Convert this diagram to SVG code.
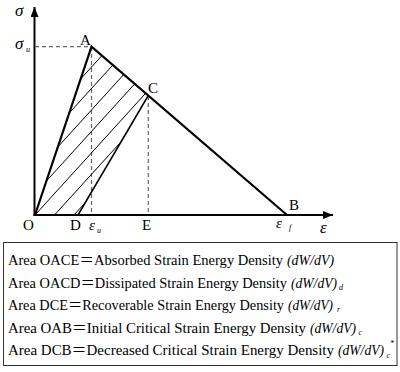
<svg xmlns="http://www.w3.org/2000/svg" width="400" height="372" viewBox="0 0 400 372">
<style>
.lbl{font-family:"Liberation Serif","Times New Roman",serif;font-size:15px;fill:#000}
.gr{font-family:"Liberation Serif","Times New Roman",serif;font-style:italic;fill:#000}
.leg{font-family:"Liberation Serif","Noto Sans CJK SC",serif;font-size:14.5px;fill:#000}
.it{font-family:"Liberation Serif","Times New Roman",serif;font-style:italic;font-size:14.5px;fill:#000}
.sub{font-family:"Liberation Serif","Times New Roman",serif;font-style:italic;font-size:8px;fill:#000}
.dash{stroke:#666;stroke-width:1.2;stroke-dasharray:4 3;fill:none}
.thick{stroke:#000;stroke-width:2.2;fill:none}
.hatch{stroke:#000;stroke-width:1;fill:none}
</style>
<defs>
<marker id="arr" viewBox="0 0 10 8" refX="10" refY="4" markerWidth="10" markerHeight="8" markerUnits="userSpaceOnUse" orient="auto">
<path d="M0,0 L10,4 L0,8 Z" fill="#000"/>
</marker>
<clipPath id="region"><polygon points="35,215 91.5,46.7 148.3,95.5 78,215"/></clipPath>
</defs>
<rect width="400" height="372" fill="#fff"/>
<g id="connectors">
<line x1="34.5" y1="216" x2="34.5" y2="7" stroke="#000" stroke-width="2" marker-end="url(#arr)"/>
<line x1="33.5" y1="215" x2="333" y2="215" stroke="#000" stroke-width="2" marker-end="url(#arr)"/>
<line class="dash" x1="35" y1="46.7" x2="91.5" y2="46.7"/>
<line class="dash" x1="91.5" y1="47" x2="91.5" y2="214"/>
<line class="dash" x1="148.3" y1="96" x2="148.3" y2="214"/>
<g clip-path="url(#region)">
<line class="hatch" x1="30" y1="134.7" x2="160" y2="-8.3"/>
<line class="hatch" x1="30" y1="156.15" x2="160" y2="13.15"/>
<line class="hatch" x1="30" y1="177.6" x2="160" y2="34.6"/>
<line class="hatch" x1="30" y1="199.05" x2="160" y2="56.05"/>
<line class="hatch" x1="30" y1="220.5" x2="160" y2="77.5"/>
<line class="hatch" x1="30" y1="241.95" x2="160" y2="98.95"/>
<line class="hatch" x1="30" y1="263.4" x2="160" y2="120.4"/>
</g>
<line x1="78" y1="215" x2="148.3" y2="95.5" stroke="#000" stroke-width="1.5"/>
<polyline class="thick" points="35,215 91.5,46.7 287,215"/>
</g>
<g id="axis-labels">
<text class="gr" x="15" y="16" font-size="17">σ</text>
<text class="gr" x="15" y="49" font-size="17">σ</text>
<text class="gr" x="26" y="52" font-size="8">u</text>
<text class="gr" x="89" y="230" font-size="15">ε</text>
<text class="gr" x="97" y="233" font-size="8">u</text>
<text class="gr" x="276" y="228" font-size="15">ε</text>
<text class="gr" x="289" y="230" font-size="8">f</text>
<text class="gr" x="320" y="233" font-size="17">ε</text>
</g>
<g id="node-O"><text class="lbl" x="23" y="230">O</text></g>
<g id="node-A"><text class="lbl" x="80" y="45">A</text></g>
<g id="node-C"><text class="lbl" x="148" y="93">C</text></g>
<g id="node-B"><text class="lbl" x="289" y="210">B</text></g>
<g id="node-D"><text class="lbl" x="70" y="230">D</text></g>
<g id="node-E"><text class="lbl" x="142" y="230">E</text></g>
<g id="legend">
<rect x="3.5" y="242.5" width="393.5" height="123" fill="none" stroke="#333" stroke-width="1"/>
<text class="leg" x="8" y="265" textLength="275" lengthAdjust="spacingAndGlyphs">Area OACE＝Absorbed Strain Energy Density</text>
<text class="it" x="287" y="265" textLength="47" lengthAdjust="spacingAndGlyphs">(dW/dV)</text>
<text class="leg" x="8" y="287.5" textLength="279" lengthAdjust="spacingAndGlyphs">Area OACD＝Dissipated Strain Energy Density</text>
<text class="it" x="291" y="287.5" textLength="46" lengthAdjust="spacingAndGlyphs">(dW/dV)</text>
<text class="sub" x="339" y="290">d</text>
<text class="leg" x="8" y="310" textLength="276" lengthAdjust="spacingAndGlyphs">Area DCE＝Recoverable Strain Energy Density</text>
<text class="it" x="288" y="310" textLength="45" lengthAdjust="spacingAndGlyphs">(dW/dV)</text>
<text class="sub" x="337" y="312">r</text>
<text class="leg" x="8" y="332.5" textLength="298" lengthAdjust="spacingAndGlyphs">Area OAB＝Initial Critical Strain Energy Density</text>
<text class="it" x="310" y="332.5" textLength="46" lengthAdjust="spacingAndGlyphs">(dW/dV)</text>
<text class="sub" x="358.5" y="335">c</text>
<text class="leg" x="8" y="355" textLength="326" lengthAdjust="spacingAndGlyphs">Area DCB＝Decreased Critical Strain Energy Density</text>
<text class="it" x="338" y="355" textLength="46" lengthAdjust="spacingAndGlyphs">(dW/dV)</text>
<text class="sub" x="386.5" y="357.5">c</text>
<text class="sub" x="390" y="346">*</text>
</g>
</svg>
